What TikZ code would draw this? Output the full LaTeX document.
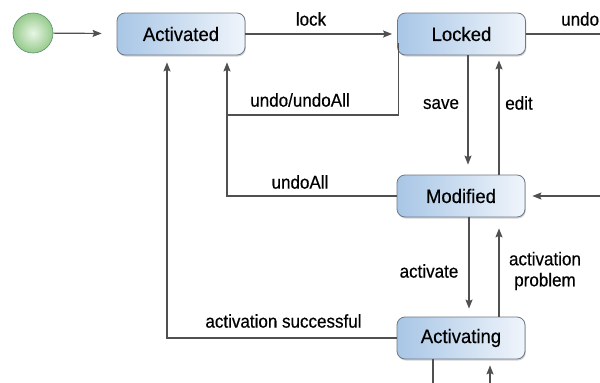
\documentclass[tikz,border=0pt]{standalone}
\usepackage{fontspec}
\setmainfont{Liberation Sans}
\newfontfamily\lblfont{Liberation Sans}[FakeStretch=0.92,FakeBold=0.4]
\newfontfamily\stfont{Liberation Sans}[FakeStretch=0.95,FakeBold=0.4]
\usetikzlibrary{arrows.meta,shadows,calc}
\definecolor{boxL}{RGB}{168,198,230}
\definecolor{boxR}{RGB}{240,245,251}
\definecolor{boxD}{RGB}{110,120,135}
\definecolor{lineC}{RGB}{80,80,80}
\definecolor{initIn}{RGB}{232,246,228}
\definecolor{initOut}{RGB}{150,202,140}
\begin{document}
\begin{tikzpicture}[x=1pt,y=-1pt,
  state/.style={draw=boxD, line width=0.8pt, rounded corners=8pt,
    minimum width=128pt, minimum height=42pt, inner sep=0pt,
    left color=boxL, right color=boxR,
    font=\stfont\fontsize{19.5}{21}\selectfont,
    drop shadow={shadow xshift=0.8pt,shadow yshift=-1.5pt,opacity=0.35}},
  arr/.style={draw=lineC, line width=1.2pt, -{Stealth[length=9pt,width=7pt,inset=1.5pt]}},
  ln/.style={draw=lineC, line width=1.2pt},
  lbl/.style={font=\lblfont\fontsize{18.5}{21}\selectfont, inner sep=0pt, align=center}]
\useasboundingbox (0,0) rectangle (600,383);
\fill[white] (0,0) rectangle (600,383);

\node[circle, minimum size=40pt, inner sep=0pt, draw=boxD!80!green, line width=0.6pt,
  inner color=initIn, outer color=initOut] (init) at (33,33) {};
\node[state] (act) at (181,34) {Activated};
\node[state] (lock) at (461.5,34) {Locked};
\node[state] (mod) at (461,196) {Modified};
\node[state] (acting) at (461,338) {Activating};

\coordinate (eR) at (600,34);
\coordinate (mR) at (600,196);
\coordinate (j1) at (227,115);
\coordinate (j2) at (167,0);
\coordinate (sx) at (468,0);
\coordinate (ex) at (499,0);
\coordinate (ax) at (469,0);
\coordinate (px) at (499,0);
\coordinate (dx) at (433,383);
\coordinate (ux) at (490,383);

\draw[arr, shorten >=15pt] (init) -- (act);
\draw[arr, shorten >=5pt] (act) -- (lock);
\draw[ln] (lock) -- (eR);
\draw[arr, shorten >=7pt] ($(lock.south west)+(1,-12)$) |- (j1) -- (j1 |- act.south);
\draw[ln] (mod.west) -| (j1);
\draw[arr, shorten >=7pt] (acting.west) -| (act.south -| j2);
\draw[arr, shorten >=10pt] (lock.south -| sx) -- (mod.north -| sx);
\draw[arr, shorten >=5pt] (mod.north -| ex) -- (lock.south -| ex);
\draw[arr, shorten >=7pt] (mR) -- (mod.east);
\draw[arr, shorten >=8pt] (mod.south -| ax) -- (acting.north -| ax);
\draw[arr, shorten >=11pt] (acting.north -| px) -- (mod.south -| px);
\draw[ln] (acting.south -| dx) -- (dx);
\draw[arr, shorten >=6pt] (ux) -- (acting.south -| ux);

\node[lbl] (llock) at (311,19) {lock};
\node[lbl, anchor=west] (lundo) at (561,19) {undo};
\node[lbl] (luu) at (300,100) {undo/undoAll};
\node[lbl] (lua) at (300,182) {undoAll};
\node[lbl] (las) at (283.5,321) {activation successful};
\node[lbl] (lsave) at (441,104) {save};
\node[lbl] (ledit) at (519,103) {edit};
\node[lbl] (lactv) at (429,271) {activate};
\node[lbl] (lap) at (545,271) {activation\\problem};
\end{tikzpicture}
\end{document}
